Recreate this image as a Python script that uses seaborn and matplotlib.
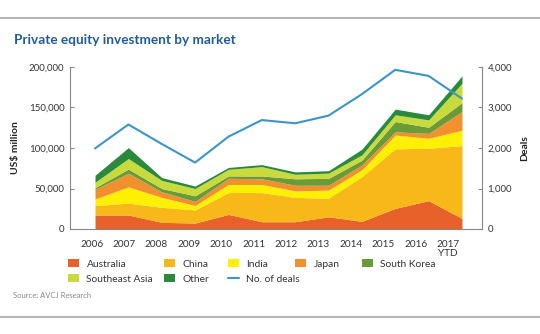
import matplotlib
matplotlib.use("Agg")
import matplotlib.pyplot as plt
import seaborn as sns
import numpy as np
import pandas as pd
from matplotlib.patches import Patch
from matplotlib.lines import Line2D

years = ["2006", "2007", "2008", "2009", "2010", "2011", "2012", "2013", "2014", "2015", "2016", "2017\nYTD"]
australia = [17300, 17300, 8200, 7400, 18000, 9000, 9000, 15000, 9500, 25500, 35000, 13000]
china = [11500, 14700, 18600, 16100, 27000, 36000, 30000, 23000, 55200, 73500, 64700, 90000]
india = [8200, 20000, 12200, 5500, 10000, 10000, 8000, 10000, 8300, 17000, 12300, 19000]
japan = [12000, 16800, 7000, 5000, 7600, 7000, 7000, 6000, 6000, 4000, 6000, 23000]
south_korea = [2000, 5200, 4000, 7000, 2900, 3500, 8000, 8500, 6000, 12700, 7600, 11000]
southeast_asia = [6700, 13000, 10000, 9000, 8200, 11500, 5500, 6500, 6500, 8300, 9100, 24000]
other = [8600, 13500, 3500, 3000, 2300, 2500, 3000, 3000, 7000, 7000, 6300, 9000]
deals = [1990, 2580, 2100, 1640, 2280, 2690, 2610, 2800, 3330, 3930, 3780, 3220]

series_names = ["Australia", "China", "India", "Japan", "South Korea", "Southeast Asia", "Other"]
colors = ["#e8612b", "#f8b81a", "#fff000", "#f0902e", "#6b9b38", "#c9da3c", "#2a8a3c"]
line_color = "#3b95c8"

sns.set_theme(style="white")
plt.rcParams['font.family'] = ['Lato', 'DejaVu Sans']

fig = plt.figure(figsize=(5.4, 3.34), dpi=100)
ax = fig.add_axes([70/540, 1-229/334, (482-70)/540, (229-67)/334])

x = np.arange(len(years))
ax.stackplot(x, australia, china, india, japan, south_korea, southeast_asia, other,
             colors=colors, linewidth=0)
ax.set_ylim(0, 200000)
ax.set_xlim(-0.75, 11.6)
ax.set_yticks([0, 50000, 100000, 150000, 200000])
ax.set_yticklabels(["0", "50,000", "100,000", "150,000", "200,000"], fontsize=7, color="#333333")

# x labels and boundary ticks
lab_x = [(91.7 + 32.4*i - 95)/33.36 for i in range(len(years))]
ax.set_xticks(lab_x)
ax.set_xticklabels(years, fontsize=7.2, color="#333333", linespacing=1.0)
ax.tick_params(axis='x', which='major', length=0, pad=8)
ax.set_xticks([p - 0.485 for p in lab_x] + [lab_x[-1] + 0.485], minor=True)
ax.tick_params(axis='x', which='minor', length=3, direction='out', color="#888888", width=0.8)
ax.tick_params(axis='y', length=3, direction='in', color="#888888", width=0.8, pad=4)

for s in ["top", "right"]:
    ax.spines[s].set_visible(False)
for s in ["left", "bottom"]:
    ax.spines[s].set_color("#888888")
    ax.spines[s].set_linewidth(0.8)
ax.set_ylabel("US$ million", fontsize=7.5, fontweight="bold", color="#222222", labelpad=6)

ax2 = ax.twinx()
df = pd.DataFrame({"x": x, "deals": deals})
sns.lineplot(data=df, x="x", y="deals", ax=ax2, color=line_color, linewidth=1.5)
ax2.set_ylim(0, 4000)
ax2.set_yticks([0, 1000, 2000, 3000, 4000])
ax2.set_yticklabels(["0", "1,000", "2,000", "3,000", "4,000"], fontsize=7, color="#333333")
ax2.set_xlabel("")
ax2.set_ylabel("Deals", fontsize=7.5, fontweight="bold", color="#222222", labelpad=6)
ax2.tick_params(axis='y', length=3, direction='in', color="#888888", width=0.8, pad=4)
for s in ["top", "left", "bottom"]:
    ax2.spines[s].set_visible(False)
ax2.spines["right"].set_color("#888888")
ax2.spines["right"].set_linewidth(0.8)
ax2.grid(False)
ax.grid(False)

patches = [Patch(facecolor=c, edgecolor='none') for c in colors]
deal_h = Line2D([0], [0], color=line_color, lw=1.5)
legend_cols = [
    ([patches[0], patches[5]], [series_names[0], series_names[5]], 68),
    ([patches[1], patches[6]], [series_names[1], series_names[6]], 164),
    ([patches[2], deal_h], [series_names[2], "No. of deals"], 228),
    ([patches[3]], [series_names[3]], 295),
    ([patches[4]], [series_names[4]], 362),
]
for hs, ls, xpos in legend_cols:
    fig.legend(hs, ls, ncol=1, loc="upper left", bbox_to_anchor=(xpos/540, 1-259/334),
               frameon=False, fontsize=7.4, handlelength=1.1, handleheight=0.8, handletextpad=0.7,
               labelspacing=0.55, borderaxespad=0, borderpad=0, labelcolor="#333333")

fig.text(14/540, 1-40/334, "Private equity investment by market", fontsize=9.8, fontweight="bold",
         color="#1f5c99", va="center", ha="left")
fig.text(13/540, 1-296/334, "Source: AVCJ Research", fontsize=5.5, color="#888888", va="center", ha="left")

fig.add_artist(Line2D([0, 1], [1-18/334]*2, transform=fig.transFigure, color="#b5b5b5", lw=1.5))
fig.add_artist(Line2D([0, 1], [1-317/334]*2, transform=fig.transFigure, color="#b5b5b5", lw=1.5))

fig.savefig("out.png", dpi=100)
